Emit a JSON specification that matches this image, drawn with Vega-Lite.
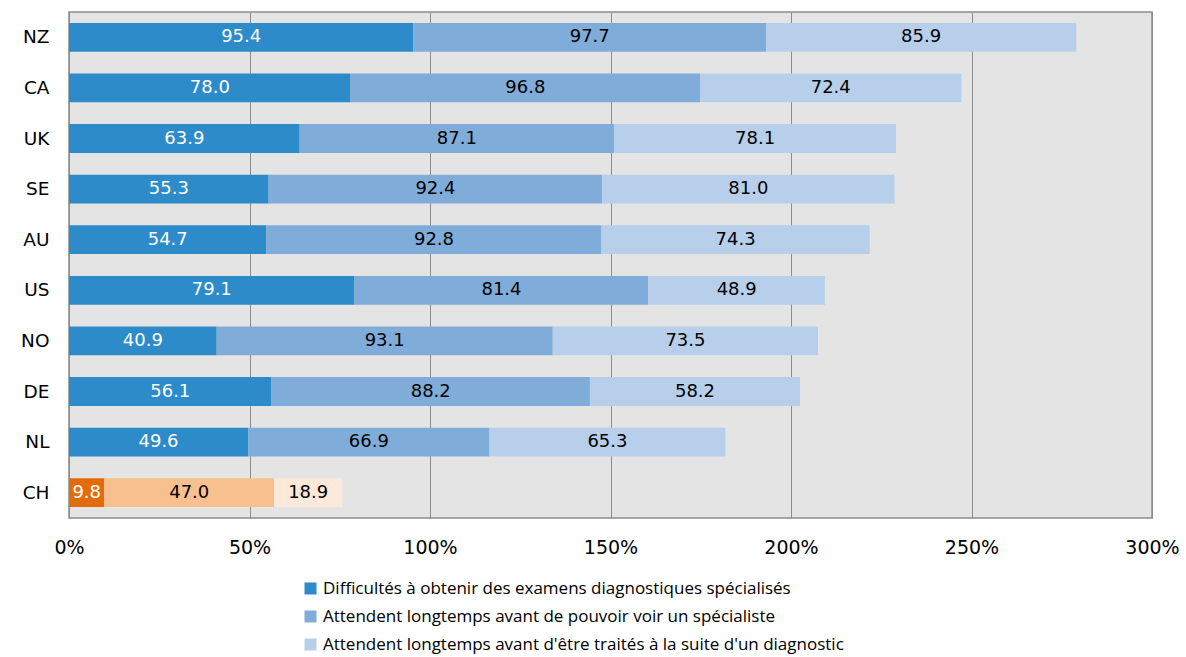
{
  "$schema": "https://vega.github.io/schema/vega-lite/v6.json",
  "width": 1083,
  "height": 506,
  "autosize": {"type": "none"},
  "padding": {"left": 69, "top": 12, "right": 34, "bottom": 139},
  "config": {
    "font": "Open Sans",
    "view": {"fill": "#e4e4e4", "stroke": "#8c8c8c", "strokeWidth": 1.5}
  },
  "data": {
    "values": [
      {"c": "NZ", "s": 1, "k": "Difficultés à obtenir des examens diagnostiques spécialisés", "v": 95.4},
      {"c": "NZ", "s": 2, "k": "Attendent longtemps avant de pouvoir voir un spécialiste", "v": 97.7},
      {"c": "NZ", "s": 3, "k": "Attendent longtemps avant d'être traités à la suite d'un diagnostic", "v": 85.9},
      {"c": "CA", "s": 1, "k": "Difficultés à obtenir des examens diagnostiques spécialisés", "v": 78.0},
      {"c": "CA", "s": 2, "k": "Attendent longtemps avant de pouvoir voir un spécialiste", "v": 96.8},
      {"c": "CA", "s": 3, "k": "Attendent longtemps avant d'être traités à la suite d'un diagnostic", "v": 72.4},
      {"c": "UK", "s": 1, "k": "Difficultés à obtenir des examens diagnostiques spécialisés", "v": 63.9},
      {"c": "UK", "s": 2, "k": "Attendent longtemps avant de pouvoir voir un spécialiste", "v": 87.1},
      {"c": "UK", "s": 3, "k": "Attendent longtemps avant d'être traités à la suite d'un diagnostic", "v": 78.1},
      {"c": "SE", "s": 1, "k": "Difficultés à obtenir des examens diagnostiques spécialisés", "v": 55.3},
      {"c": "SE", "s": 2, "k": "Attendent longtemps avant de pouvoir voir un spécialiste", "v": 92.4},
      {"c": "SE", "s": 3, "k": "Attendent longtemps avant d'être traités à la suite d'un diagnostic", "v": 81.0},
      {"c": "AU", "s": 1, "k": "Difficultés à obtenir des examens diagnostiques spécialisés", "v": 54.7},
      {"c": "AU", "s": 2, "k": "Attendent longtemps avant de pouvoir voir un spécialiste", "v": 92.8},
      {"c": "AU", "s": 3, "k": "Attendent longtemps avant d'être traités à la suite d'un diagnostic", "v": 74.3},
      {"c": "US", "s": 1, "k": "Difficultés à obtenir des examens diagnostiques spécialisés", "v": 79.1},
      {"c": "US", "s": 2, "k": "Attendent longtemps avant de pouvoir voir un spécialiste", "v": 81.4},
      {"c": "US", "s": 3, "k": "Attendent longtemps avant d'être traités à la suite d'un diagnostic", "v": 48.9},
      {"c": "NO", "s": 1, "k": "Difficultés à obtenir des examens diagnostiques spécialisés", "v": 40.9},
      {"c": "NO", "s": 2, "k": "Attendent longtemps avant de pouvoir voir un spécialiste", "v": 93.1},
      {"c": "NO", "s": 3, "k": "Attendent longtemps avant d'être traités à la suite d'un diagnostic", "v": 73.5},
      {"c": "DE", "s": 1, "k": "Difficultés à obtenir des examens diagnostiques spécialisés", "v": 56.1},
      {"c": "DE", "s": 2, "k": "Attendent longtemps avant de pouvoir voir un spécialiste", "v": 88.2},
      {"c": "DE", "s": 3, "k": "Attendent longtemps avant d'être traités à la suite d'un diagnostic", "v": 58.2},
      {"c": "NL", "s": 1, "k": "Difficultés à obtenir des examens diagnostiques spécialisés", "v": 49.6},
      {"c": "NL", "s": 2, "k": "Attendent longtemps avant de pouvoir voir un spécialiste", "v": 66.9},
      {"c": "NL", "s": 3, "k": "Attendent longtemps avant d'être traités à la suite d'un diagnostic", "v": 65.3},
      {"c": "CH", "s": 1, "k": "CH1", "v": 9.8},
      {"c": "CH", "s": 2, "k": "CH2", "v": 47.0},
      {"c": "CH", "s": 3, "k": "CH3", "v": 18.9}
    ]
  },
  "encoding": {
    "y": {
      "field": "c",
      "type": "nominal",
      "sort": ["NZ", "CA", "UK", "SE", "AU", "US", "NO", "DE", "NL", "CH"],
      "scale": {"paddingInner": 0.43, "paddingOuter": 0.215},
      "axis": {"title": null, "ticks": false, "domain": false, "labelFont": "DejaVu Sans", "labelFontSize": 18.5, "labelColor": "black", "labelPadding": 20}
    }
  },
  "layer": [
    {
      "mark": {"type": "bar"},
      "encoding": {
        "x": {
          "field": "v",
          "type": "quantitative",
          "stack": "zero",
          "scale": {"domain": [0, 300], "nice": false},
          "axis": {
            "title": null,
            "values": [0, 50, 100, 150, 200, 250, 300],
            "labelExpr": "datum.value + '%'",
            "labelFlush": false,
            "grid": true,
            "gridColor": "#8c8c8c",
            "gridWidth": 1,
            "gridOpacity": 1,
            "ticks": false,
            "domain": false,
            "labelFont": "DejaVu Sans",
            "labelFontSize": 19,
            "labelColor": "black",
            "labelPadding": 20
          }
        },
        "color": {
          "field": "k",
          "type": "nominal",
          "scale": {
            "domain": [
              "Difficultés à obtenir des examens diagnostiques spécialisés",
              "Attendent longtemps avant de pouvoir voir un spécialiste",
              "Attendent longtemps avant d'être traités à la suite d'un diagnostic",
              "CH1", "CH2", "CH3"
            ],
            "range": ["#2c8bc8", "#80acd9", "#b8cfeb", "#e36c0a", "#f9c08f", "#fde9d9"]
          },
          "legend": {
            "values": [
              "Difficultés à obtenir des examens diagnostiques spécialisés",
              "Attendent longtemps avant de pouvoir voir un spécialiste",
              "Attendent longtemps avant d'être traités à la suite d'un diagnostic"
            ],
            "orient": "none",
            "legendX": 233,
            "legendY": 568,
            "direction": "vertical",
            "title": null,
            "symbolType": "square",
            "symbolSize": 144,
            "symbolStrokeWidth": 0,
            "symbolOpacity": 1,
            "labelFontSize": 17,
            "labelColor": "black",
            "labelOffset": 4,
            "rowPadding": 10,
            "labelLimit": 800
          }
        },
        "order": {"field": "s"}
      }
    },
    {
      "transform": [
        {"stack": "v", "groupby": ["c"], "sort": [{"field": "s"}], "as": ["v0", "v1"]},
        {"calculate": "(datum.v0 + datum.v1) / 2", "as": "mid"}
      ],
      "mark": {"type": "text", "fontSize": 18, "font": "DejaVu Sans"},
      "encoding": {
        "x": {"field": "mid", "type": "quantitative"},
        "text": {"field": "v", "type": "quantitative", "format": ".1f"},
        "color": {"condition": {"test": "datum.s == 1", "value": "white"}, "value": "black"}
      }
    }
  ]
}
